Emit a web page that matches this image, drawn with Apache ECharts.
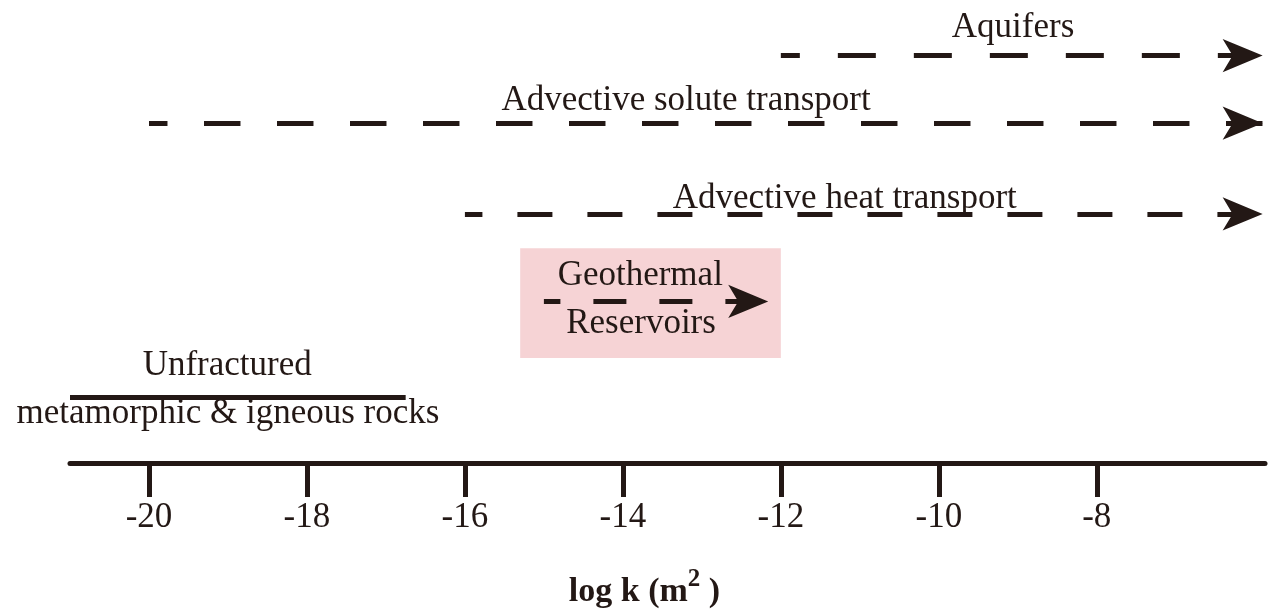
<!DOCTYPE html>
<html>
<head>
<meta charset="utf-8">
<script src="https://cdn.jsdelivr.net/npm/echarts@6/dist/echarts.min.js"></script>
<style>html,body{margin:0;padding:0;background:#fff;}#c{width:1271px;height:612px;}</style>
</head>
<body>
<div id="c"></div>
<script>
// Axis: log10 permeability (m^2)
const tickValues = [-20, -18, -16, -14, -12, -10, -8];
// Permeability ranges (from, to) and their row level
const rangeNames  = ['Aquifers', 'Advective solute transport', 'Advective heat transport', 'Geothermal Reservoirs', 'Unfractured metamorphic & igneous rocks'];
const rangeFrom   = [-12, -20, -16, -15, -21];
const rangeTo     = [-5.9, -5.9, -5.9, -12.16, -16.75];
const rangeLevel  = [8.80, 7.34, 5.38, 3.49, 1.43];
const rangeArrow  = [true, true, true, true, false];
// Highlighted box for geothermal reservoirs
const boxX = [-15.3, -12];
const boxLevel = [2.27, 4.64];
// Annotation texts and their anchor (x, level)
const labelTexts = ['Aquifers', 'Advective solute transport', 'Advective heat transport', 'Geothermal', 'Reservoirs', 'Unfractured', 'metamorphic & igneous rocks'];
const labelX     = [-9.06, -13.2, -11.19, -13.78, -13.77, -19.01, -19.0];
const labelLevel = [9.40, 7.82, 5.71, 4.04, 3.01, 2.10, 1.06];

const INK = '#231815';
const FONT = '"Liberation Serif", "Times New Roman", serif';
// dash pattern per line [dash, gap, offset]
const dashes = [[38, 38, 19], [36.5, 36.5, 18], [35, 35, 17.5], [33, 33, 16.5], null];

const series = [];
series.push({
  type: 'scatter', data: [], z: 1, silent: true,
  markArea: {
    silent: true,
    itemStyle: { color: '#f6d3d5', opacity: 1 },
    data: [[{ xAxis: boxX[0], yAxis: boxLevel[0] }, { xAxis: boxX[1], yAxis: boxLevel[1] }]]
  }
});
rangeNames.forEach((n, i) => {
  const d = dashes[i];
  series.push({
    type: 'lines', coordinateSystem: 'cartesian2d', name: n, z: 3, silent: true,
    symbol: rangeArrow[i] ? ['none', 'arrow'] : ['none', 'none'],
    symbolSize: [[25, 40], [25, 40]],
    symbolOffset: [0, 20],
    lineStyle: d ? { color: INK, width: 5, type: [d[0], d[1]], dashOffset: d[2], opacity: 1, cap: 'butt' }
                 : { color: INK, width: 5, type: 'solid', opacity: 1 },
    itemStyle: { color: INK, opacity: 1 },
    data: [{ coords: [[rangeFrom[i], rangeLevel[i]], [rangeTo[i], rangeLevel[i]]] }]
  });
});
series.push({
  type: 'scatter', z: 2, silent: true, symbolSize: 0,
  itemStyle: { opacity: 1 },
  data: labelTexts.map((t, i) => ({ value: [labelX[i], labelLevel[i]], name: t })),
  label: {
    show: true, position: 'inside', formatter: p => p.name, opacity: 1,
    color: INK, fontFamily: FONT, fontSize: 35, align: 'center', verticalAlign: 'middle',
    textBorderWidth: 0
  }
});

const chart = echarts.init(document.getElementById('c'), null, { renderer: 'canvas' });
chart.setOption({
  backgroundColor: '#ffffff',
  animation: false,
  grid: { left: 70, right: 6, top: 0, bottom: 149, containLabel: false, outerBoundsMode: 'none' },
  xAxis: {
    type: 'value', min: -21, max: -5.87,
    axisLine: { show: true, onZero: false, lineStyle: { color: INK, width: 5 } },
    axisTick: { show: true, customValues: tickValues, length: 34, lineStyle: { color: INK, width: 5 } },
    axisLabel: { show: true, customValues: tickValues, margin: 37, color: INK, fontFamily: FONT, fontSize: 35 },
    splitLine: { show: false },
    name: '{b|log k (m}{sup|2}{b| )}',
    nameLocation: 'middle', nameGap: 104,
    nameTextStyle: {
      color: INK, fontFamily: FONT, fontSize: 34, fontWeight: 'bold', padding: [0, 46, 0, 0],
      rich: {
        b: { fontSize: 34, fontWeight: 'bold', fontFamily: FONT, color: INK, lineHeight: 42, verticalAlign: 'bottom' },
        sup: { fontSize: 25, fontWeight: 'bold', fontFamily: FONT, color: INK, lineHeight: 25, verticalAlign: 'top' }
      }
    }
  },
  yAxis: { type: 'value', min: 0, max: 10, show: false },
  series: series
});
</script>
</body>
</html>
